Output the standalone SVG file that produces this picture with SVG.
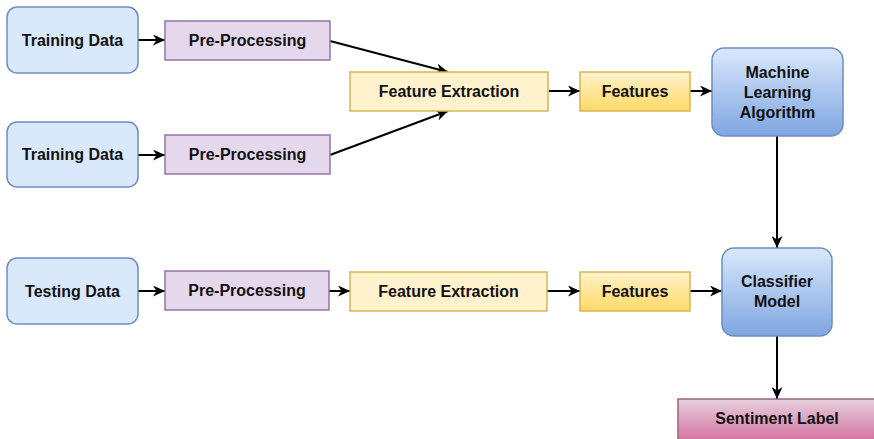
<svg xmlns="http://www.w3.org/2000/svg" width="874" height="439" viewBox="0 0 874 439">
<defs>
  <linearGradient id="gYellow" x1="0" y1="0" x2="0" y2="1">
    <stop offset="0" stop-color="#fff2cc"/>
    <stop offset="1" stop-color="#ffd966"/>
  </linearGradient>
  <linearGradient id="gBlue" x1="0" y1="0" x2="0" y2="1">
    <stop offset="0" stop-color="#dae8fc"/>
    <stop offset="1" stop-color="#7ea6e0"/>
  </linearGradient>
  <linearGradient id="gPink" x1="0" y1="0" x2="0" y2="1">
    <stop offset="0" stop-color="#e6d0de"/>
    <stop offset="1" stop-color="#d5739d"/>
  </linearGradient>
  <marker id="arr" markerUnits="userSpaceOnUse" markerWidth="13" markerHeight="11" refX="12" refY="5.5" orient="auto" viewBox="0 0 13 11">
    <path d="M0,0 L12,5.5 L0,11 L3.5,5.5 Z" fill="#000"/>
  </marker>
</defs>
<style>
  .t { font-family: "Liberation Sans", Arial, sans-serif; font-weight: bold; font-size: 16px; fill: #111; text-anchor: middle; }
  .data { fill: #dae8fc; stroke: #6c8ebf; stroke-width: 1.5; }
  .pre { fill: #e6d8ec; stroke: #9673a6; stroke-width: 1.5; }
  .fe { fill: #fff2cc; stroke: #d6b656; stroke-width: 1.5; }
  .feat { fill: url(#gYellow); stroke: #d6b656; stroke-width: 1.5; }
  .ml { fill: url(#gBlue); stroke: #6c8ebf; stroke-width: 1.5; }
  .sent { fill: url(#gPink); stroke: #996185; stroke-width: 1.5; }
  .c { stroke: #000; stroke-width: 2; fill: none; marker-end: url(#arr); }
</style>
<rect width="874" height="439" fill="#fff"/>
<g id="connectors">
  <line class="c" x1="138" y1="40" x2="165" y2="40"/>
  <line class="c" x1="138" y1="155" x2="165" y2="155"/>
  <line class="c" x1="330" y1="41" x2="448" y2="72"/>
  <line class="c" x1="330" y1="155" x2="448" y2="111"/>
  <line class="c" x1="549" y1="91" x2="580" y2="91"/>
  <line class="c" x1="690" y1="91" x2="712" y2="91"/>
  <line class="c" x1="777" y1="136" x2="777" y2="248"/>
  <line class="c" x1="138" y1="291" x2="165" y2="291"/>
  <line class="c" x1="329" y1="291" x2="350" y2="291"/>
  <line class="c" x1="547" y1="291" x2="580" y2="291"/>
  <line class="c" x1="690" y1="291" x2="722" y2="291"/>
  <line class="c" x1="777" y1="336" x2="777" y2="399"/>
</g>
<g id="train1">
  <rect class="data" x="7" y="7" width="131" height="66" rx="10"/>
  <text class="t" x="72.5" y="45.5">Training Data</text>
</g>
<g id="pre1">
  <rect class="pre" x="165" y="21" width="165" height="39"/>
  <text class="t" x="247.5" y="45.5">Pre-Processing</text>
</g>
<g id="train2">
  <rect class="data" x="7" y="122" width="131" height="65" rx="10"/>
  <text class="t" x="72.5" y="160">Training Data</text>
</g>
<g id="pre2">
  <rect class="pre" x="165" y="135" width="165" height="39"/>
  <text class="t" x="247.5" y="160">Pre-Processing</text>
</g>
<g id="fe1">
  <rect class="fe" x="350" y="72" width="198" height="39"/>
  <text class="t" x="449" y="97">Feature Extraction</text>
</g>
<g id="features1">
  <rect class="feat" x="580" y="72" width="110" height="39"/>
  <text class="t" x="635" y="97">Features</text>
</g>
<g id="mla">
  <rect class="ml" x="712" y="48" width="131" height="88" rx="12"/>
  <text class="t" x="777.5" y="77.5">Machine</text>
  <text class="t" x="777.5" y="97.5">Learning</text>
  <text class="t" x="777.5" y="117.5">Algorithm</text>
</g>
<g id="test">
  <rect class="data" x="7" y="258" width="131" height="66" rx="10"/>
  <text class="t" x="72.5" y="296.5">Testing Data</text>
</g>
<g id="pre3">
  <rect class="pre" x="165" y="271" width="164" height="39"/>
  <text class="t" x="247" y="296">Pre-Processing</text>
</g>
<g id="fe2">
  <rect class="fe" x="350" y="272" width="197" height="39"/>
  <text class="t" x="448.5" y="297">Feature Extraction</text>
</g>
<g id="features2">
  <rect class="feat" x="580" y="272" width="110" height="39"/>
  <text class="t" x="635" y="297">Features</text>
</g>
<g id="classifier">
  <rect class="ml" x="722" y="248" width="110" height="88" rx="12"/>
  <text class="t" x="777" y="286.5">Classifier</text>
  <text class="t" x="777" y="306.5">Model</text>
</g>
<g id="sentiment">
  <rect class="sent" x="678" y="399" width="198" height="42"/>
  <text class="t" x="777" y="424">Sentiment Label</text>
</g>
</svg>
